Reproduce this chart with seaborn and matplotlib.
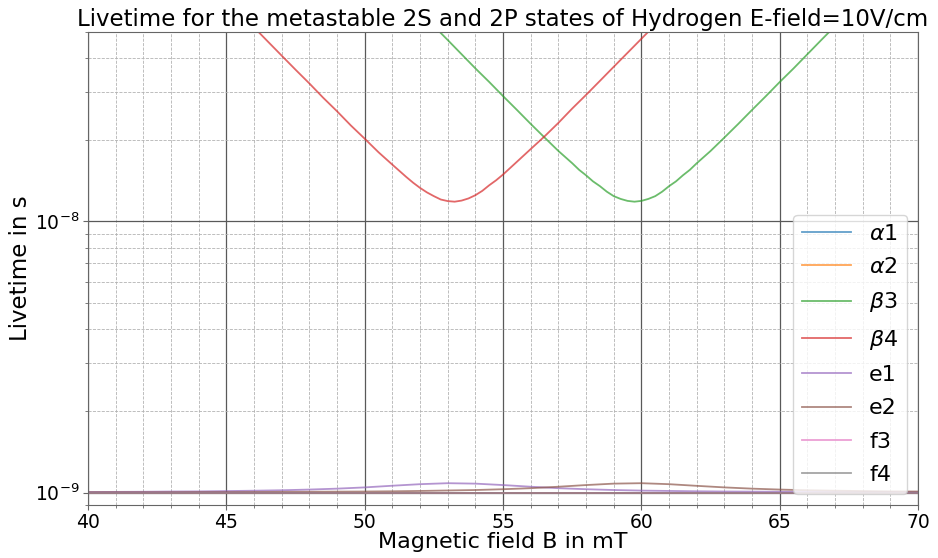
import numpy as np
import pandas as pd
import matplotlib
matplotlib.use("Agg")
import matplotlib.pyplot as plt
from matplotlib.ticker import MultipleLocator, NullFormatter, LogLocator
import seaborn as sns

# ---------------- data (lifetimes in ns) ----------------
labels = [r"$\alpha1$", r"$\alpha2$", r"$\beta3$", r"$\beta4$", "e1", "e2", "f3", "f4"]

alpha1_B = [40.0, 70.0]
alpha1_tau = [1.0, 1.0]
alpha2_B = [40.0, 70.0]
alpha2_tau = [1.0, 1.0]

beta3_B = [52.0, 52.5, 53.0, 53.5, 54.0, 54.5, 55.0, 55.5, 56.0, 56.5, 57.0, 57.5,
           57.75, 58.0, 58.25, 58.5, 58.75, 59.0, 59.25, 59.5, 59.75, 60.0, 60.25,
           60.5, 60.75, 61.0, 61.25, 61.5, 61.75, 62.0, 62.5, 63.0, 63.5,
           64.0, 64.5, 65.0, 65.5, 66.0, 66.5, 67.0, 67.5]
beta3_tau = [59.2, 52.6, 46.7, 41.4, 36.7, 32.7, 29.0, 25.8, 22.9, 20.4, 18.2, 16.4,
             15.5, 14.8, 14.06, 13.5, 12.88, 12.4, 12.11, 11.91, 11.83, 11.91, 12.11,
             12.4, 12.88, 13.5, 14.06, 14.8, 15.5, 16.4, 18.2, 20.4, 22.9,
             25.8, 29.0, 32.7, 36.7, 41.4, 46.7, 52.6, 59.2]

beta4_B = [45.5, 46.0, 46.5, 47.0, 47.5, 48.0, 48.5, 49.0, 49.5, 50.0, 50.5, 51.0,
           51.5, 51.75, 52.0, 52.25, 52.5, 52.75, 53.0, 53.25, 53.5, 53.75, 54.0,
           54.25, 54.5, 54.75, 55.0, 55.5, 56.0, 56.5, 57.0,
           57.5, 58.0, 58.5, 59.0, 59.5, 60.0, 60.5]
beta4_tau = [58.5, 52.0, 46.1, 40.9, 36.3, 32.3, 28.6, 25.5, 22.6, 20.2, 18.0, 16.2,
             14.6, 13.9, 13.3, 12.8, 12.4, 12.05, 11.89, 11.83, 11.94, 12.16, 12.5,
             12.97, 13.6, 14.19, 14.9, 16.6, 18.5, 20.6, 23.1,
             26.1, 29.3, 33.0, 37.2, 41.9, 47.2, 53.2]

e_B = [40, 41, 42, 43, 44, 45, 46, 47, 48, 49, 50, 51, 52, 53, 54, 55, 56, 57, 58, 59,
       60, 61, 62, 63, 64, 65, 66, 67, 68, 69, 70]
e1_tau = [1.005, 1.006, 1.007, 1.009, 1.010, 1.013, 1.016, 1.020, 1.026, 1.034, 1.045,
          1.060, 1.074, 1.083, 1.079, 1.066, 1.051, 1.038, 1.029, 1.022, 1.017, 1.014,
          1.011, 1.009, 1.008, 1.007, 1.006, 1.005, 1.004, 1.004, 1.003]
e2_tau = [1.003, 1.003, 1.003, 1.003, 1.004, 1.004, 1.005, 1.006, 1.007, 1.008, 1.009,
          1.011, 1.014, 1.018, 1.022, 1.029, 1.038, 1.051, 1.066, 1.079, 1.083, 1.074,
          1.059, 1.045, 1.034, 1.026, 1.020, 1.016, 1.013, 1.010, 1.009]

f3_B = [40.0, 70.0]
f3_tau = [1.0, 1.0]
f4_B = [40.0, 70.0]
f4_tau = [1.0, 1.0]

x_ticks = [40, 45, 50, 55, 60, 65, 70]

# ---------------- build long table ----------------
series = [(alpha1_B, alpha1_tau), (alpha2_B, alpha2_tau), (beta3_B, beta3_tau),
          (beta4_B, beta4_tau), (e_B, e1_tau), (e_B, e2_tau), (f3_B, f3_tau),
          (f4_B, f4_tau)]
frames = []
for lab, (b, t) in zip(labels, series):
    frames.append(pd.DataFrame({"B": b, "tau": np.array(t) * 1e-9, "state": lab}))
df = pd.concat(frames, ignore_index=True)

palette = sns.color_palette("tab10", 8)

# ---------------- plot ----------------
fig = plt.figure(figsize=(9.38, 5.58), dpi=100)
ax = fig.add_axes([0.0938, 0.095, 0.885, 0.8477])

sns.lineplot(data=df, x="B", y="tau", hue="state", hue_order=labels,
             palette=palette, alpha=0.7, linewidth=1.3, ax=ax,
             estimator=None, sort=True)

ax.set_yscale("log")
ax.set_xlim(40, 70)
ax.set_ylim(9e-10, 5e-8)
ax.set_xticks(x_ticks)
ax.xaxis.set_minor_locator(MultipleLocator(1))
ax.yaxis.set_minor_locator(LogLocator(base=10, subs=np.arange(2, 10)))
ax.yaxis.set_minor_formatter(NullFormatter())

ax.grid(which="major", color="0.35", linestyle="-", linewidth=0.9)
ax.grid(which="minor", color="0.7", linestyle="--", linewidth=0.6)
ax.set_axisbelow(True)

for sp in ax.spines.values():
    sp.set_color("0.4")
ax.tick_params(which="both", colors="0.4", labelcolor="black", labelsize=13.5)
ax.tick_params(which="major", length=3.5, pad=2.5)

ax.set_xlabel("Magnetic field B in mT", fontsize=16, labelpad=0)
ax.set_ylabel("Livetime in s", fontsize=16.5, labelpad=2)
ax.set_title("Livetime for the metastable 2S and 2P states of Hydrogen E-field=10V/cm",
             fontsize=16.5, pad=4)

sns.move_legend(ax, "lower right", title=None, fontsize=16, handlelength=2.2,
                borderaxespad=0.5, labelspacing=0.6)

fig.savefig("out.png", dpi=100)
